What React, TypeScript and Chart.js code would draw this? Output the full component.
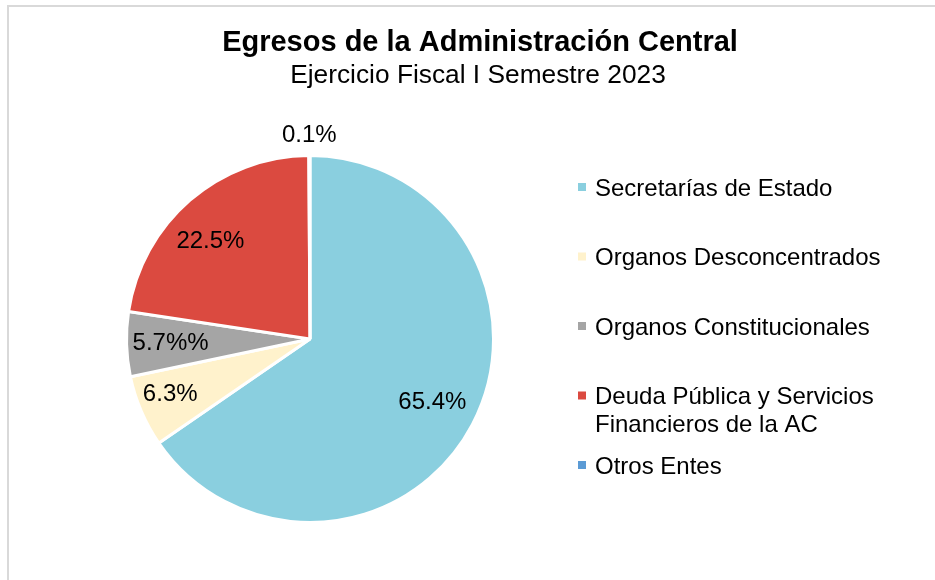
import React, { useEffect, useRef } from "react";
import { Chart, registerables } from "chart.js";

Chart.register(...registerables);

const categories = [
  "Secretarías de Estado",
  "Organos Desconcentrados",
  "Organos Constitucionales",
  "Deuda Pública y Servicios Financieros de la AC",
  "Otros Entes",
];
const shares = [65.4, 6.3, 5.7, 22.5, 0.1];
const shareLabels = ["65.4%", "6.3%", "5.7%%", "22.5%", "0.1%"];
const sliceColors = ["#8ACFDF", "#FFF2CC", "#A5A5A5", "#DB4A40", "#5B9BD5"];
const titleText = "Egresos de la Administración Central";
const subtitleText = "Ejercicio Fiscal I Semestre 2023";

const FONT = '"Liberation Sans", Arial, sans-serif';
const labelRadiusFactors = [0.75, 0.82, 0.76, 0.76, 1.11];
const labelAngleShiftDeg = [-0.5, 1.5, 0, -4.7, 0];

function wrapText(ctx: CanvasRenderingContext2D, text: string, maxWidth: number): string[] {
  const words = text.split(" ");
  const lines: string[] = [];
  let cur = "";
  for (const w of words) {
    const test = cur ? cur + " " + w : w;
    if (ctx.measureText(test).width > maxWidth && cur) {
      lines.push(cur);
      cur = w;
    } else {
      cur = test;
    }
  }
  if (cur) lines.push(cur);
  return lines;
}

const decorPlugin = {
  id: "decor",
  afterDatasetsDraw(chart: any) {
    const ctx: CanvasRenderingContext2D = chart.ctx;
    const meta = chart.getDatasetMeta(0);
    ctx.save();
    ctx.fillStyle = "#000";

    // slice labels
    ctx.font = `24px ${FONT}`;
    ctx.textAlign = "center";
    ctx.textBaseline = "middle";
    meta.data.forEach((arc: any, i: number) => {
      const p = arc.getProps(["x", "y", "startAngle", "endAngle", "outerRadius"], true);
      const mid = (p.startAngle + p.endAngle) / 2 + (labelAngleShiftDeg[i] * Math.PI) / 180;
      const r = p.outerRadius * labelRadiusFactors[i];
      ctx.fillText(shareLabels[i], p.x + Math.cos(mid) * r, p.y + Math.sin(mid) * r);
    });

    // title + subtitle
    ctx.font = `bold 29px ${FONT}`;
    ctx.fillText(titleText, 480, 43);
    ctx.font = `26.3px ${FONT}`;
    ctx.fillText(subtitleText, 478, 76);

    // legend
    ctx.textAlign = "left";
    ctx.textBaseline = "alphabetic";
    ctx.font = `24px ${FONT}`;
    const labels: string[] = chart.data.labels;
    const colors: string[] = chart.data.datasets[0].backgroundColor;
    labels.forEach((lab, i) => {
      const cy = 187 + 69.5 * i;
      ctx.fillStyle = colors[i];
      ctx.fillRect(578, cy - 4, 8, 8);
      ctx.fillStyle = "#000";
      const lines = wrapText(ctx, lab, 310);
      lines.forEach((ln, j) => {
        ctx.fillText(ln, 595, cy + 8.6 + j * 28);
      });
    });
    ctx.restore();
  },
};

export default function App() {
  const canvasRef = useRef<HTMLCanvasElement | null>(null);

  useEffect(() => {
    document.body.style.margin = "0";
    const canvas = canvasRef.current;
    if (!canvas) return;
    const chart = new Chart(canvas, {
      type: "pie",
      data: {
        labels: categories,
        datasets: [
          {
            data: shares,
            backgroundColor: sliceColors,
            borderColor: "#FFFFFF",
            borderWidth: 3,
          },
        ],
      },
      options: {
        responsive: false,
        animation: false,
        events: [],
        layout: { padding: { left: 125, right: 440, top: 154, bottom: 56 } },
        plugins: {
          legend: { display: false },
          tooltip: { enabled: false },
          title: { display: false },
        },
      },
      plugins: [decorPlugin],
    });
    return () => chart.destroy();
  }, []);

  return (
    <div style={{ position: "relative", width: 935, height: 580, overflow: "hidden", background: "#fff" }}>
      <canvas ref={canvasRef} width={935} height={580} style={{ display: "block" }} />
      <div
        style={{
          position: "absolute",
          left: 7,
          top: 5,
          width: 1200,
          height: 1200,
          borderLeft: "2px solid #D9D9D9",
          borderTop: "2px solid #D9D9D9",
          pointerEvents: "none",
        }}
      />
    </div>
  );
}
